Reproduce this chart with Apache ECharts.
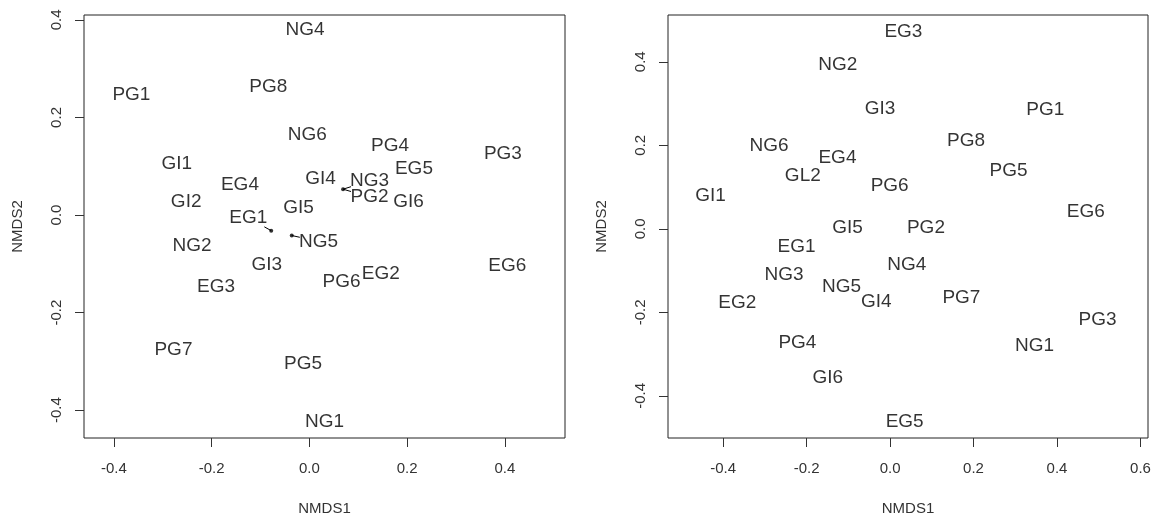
<!DOCTYPE html>
<html>
<head>
<meta charset="utf-8">
<script src="https://cdn.jsdelivr.net/npm/echarts@6/dist/echarts.min.js"></script>
<style>
  html, body { margin: 0; padding: 0; background: #fff; }
  #main { width: 1154px; height: 517px; }
</style>
</head>
<body>
<div id="main"></div>
<script>
// left ordination
var leftNames = ['NG4', 'PG1', 'PG8', 'NG6', 'PG4', 'PG3', 'GI1', 'EG5', 'EG4', 'GI4', 'NG3', 'PG2', 'GI6',
    'GI2', 'GI5', 'EG1', 'NG5', 'NG2', 'GI3', 'EG3', 'PG6', 'EG2', 'EG6', 'PG7', 'PG5', 'NG1'];
var leftX = [-0.009, -0.364, -0.084, -0.004, 0.165, 0.396, -0.271, 0.214, -0.142, 0.023, 0.123, 0.123, 0.203,
    -0.252, -0.022, -0.125, 0.019, -0.240, -0.087, -0.191, 0.066, 0.146, 0.405, -0.278, -0.013, 0.031];
var leftY = [0.380, 0.247, 0.263, 0.165, 0.143, 0.126, 0.105, 0.094, 0.062, 0.074, 0.070, 0.037, 0.027,
    0.027, 0.014, -0.006, -0.054, -0.064, -0.102, -0.146, -0.136, -0.120, -0.104, -0.276, -0.304, -0.423];

// points whose labels were moved off them
var dotX = [-0.078, -0.036, 0.069];
var dotY = [-0.032, -0.042, 0.053];
var leaderLabels = ['EG1', 'NG5', 'NG3', 'PG2'];
var leaderDots = [0, 1, 2, 2];

// right ordination
var rightNames = ['EG3', 'NG2', 'GI3', 'PG1', 'PG8', 'NG6', 'EG4', 'PG5', 'GL2', 'PG6', 'GI1', 'EG6', 'GI5',
    'PG2', 'EG1', 'NG4', 'NG3', 'NG5', 'GI4', 'PG7', 'EG2', 'PG3', 'PG4', 'NG1', 'GI6', 'EG5'];
var rightX = [0.032, -0.125, -0.024, 0.372, 0.182, -0.290, -0.126, 0.284, -0.209, -0.001, -0.430, 0.469, -0.102,
    0.086, -0.224, 0.040, -0.254, -0.116, -0.033, 0.171, -0.366, 0.497, -0.222, 0.346, -0.149, 0.035];
var rightY = [0.473, 0.394, 0.287, 0.285, 0.212, 0.198, 0.170, 0.138, 0.127, 0.102, 0.078, 0.041, 0.002,
    0.002, -0.043, -0.087, -0.110, -0.139, -0.174, -0.165, -0.178, -0.218, -0.274, -0.280, -0.356, -0.463];

var leftXTicks = [-0.4, -0.2, 0.0, 0.2, 0.4];
var leftYTicks = [-0.4, -0.2, 0.0, 0.2, 0.4];
var rightXTicks = [-0.4, -0.2, 0.0, 0.2, 0.4, 0.6];
var rightYTicks = [-0.4, -0.2, 0.0, 0.2, 0.4];

var font = 'Liberation Sans, Arial, sans-serif';

function drawChart() {
    var myChart = echarts.init(document.getElementById('main'));

    function pts(names, xs, ys) {
        return names.map(function (n, i) {
            return { name: n, value: [xs[i], ys[i]] };
        });
    }

    function axisX(idx, min, max, ticks) {
        return {
            type: 'value', gridIndex: idx, min: min, max: max,
            name: 'NMDS1', nameLocation: 'middle', nameGap: 63,
            nameTextStyle: { color: '#333', fontSize: 15, fontFamily: font },
            axisLine: { show: false, onZero: false },
            splitLine: { show: false },
            axisTick: { show: true, length: 9, customValues: ticks, lineStyle: { color: '#333' } },
            axisLabel: {
                customValues: ticks, margin: 23, color: '#333', fontSize: 15, fontFamily: font,
                formatter: function (v) { return v.toFixed(1); }
            }
        };
    }

    function axisY(idx, min, max, ticks) {
        return {
            type: 'value', gridIndex: idx, min: min, max: max,
            name: 'NMDS2', nameLocation: 'middle', nameGap: 59,
            nameTextStyle: { color: '#333', fontSize: 15, fontFamily: font },
            axisLine: { show: false, onZero: false },
            splitLine: { show: false },
            axisTick: { show: true, length: 9, customValues: ticks, lineStyle: { color: '#333' } },
            axisLabel: {
                customValues: ticks, margin: 20, rotate: 90, color: '#333', fontSize: 15, fontFamily: font,
                formatter: function (v) { return v.toFixed(1); }
            }
        };
    }

    function labelSeries(idx, data) {
        return {
            type: 'scatter', xAxisIndex: idx, yAxisIndex: idx,
            symbolSize: 1, itemStyle: { color: 'rgba(0,0,0,0)' },
            silent: true,
            label: {
                show: true, position: 'inside', formatter: '{b}',
                color: '#000', fontSize: 19, fontFamily: font
            },
            data: data
        };
    }

    // short leader lines from each displaced point toward its label
    var leaders = leaderLabels.map(function (lab, k) {
        var i = leftNames.indexOf(lab);
        var d = leaderDots[k];
        var f = 0.3;
        var ex = dotX[d] + f * (leftX[i] - dotX[d]);
        var ey = dotY[d] + f * (leftY[i] - dotY[d]);
        return {
            type: 'line', xAxisIndex: 0, yAxisIndex: 0,
            symbol: 'none', silent: true,
            lineStyle: { color: '#000', width: 1 },
            data: [[dotX[d], dotY[d]], [ex, ey]]
        };
    });

    var option = {
        animation: false,
        backgroundColor: '#fff',
        grid: [
            { left: 84, top: 15, width: 481, height: 423, show: true, borderColor: '#222', borderWidth: 1,
              containLabel: false, outerBoundsMode: 'none' },
            { left: 668, top: 15, width: 480, height: 423, show: true, borderColor: '#222', borderWidth: 1,
              containLabel: false, outerBoundsMode: 'none' }
        ],
        xAxis: [
            axisX(0, -0.461, 0.523, leftXTicks),
            axisX(1, -0.532, 0.618, rightXTicks)
        ],
        yAxis: [
            axisY(0, -0.457, 0.410, leftYTicks),
            axisY(1, -0.501, 0.512, rightYTicks)
        ],
        series: [
            labelSeries(0, pts(leftNames, leftX, leftY)),
            labelSeries(1, pts(rightNames, rightX, rightY)),
            {
                type: 'scatter', xAxisIndex: 0, yAxisIndex: 0,
                symbolSize: 4, itemStyle: { color: '#000' }, silent: true,
                data: dotX.map(function (x, i) { return [x, dotY[i]]; })
            }
        ].concat(leaders)
    };

    option && myChart.setOption(option);
}

document.addEventListener('DOMContentLoaded', function () {
    drawChart();
});
</script>
</body>
</html>
